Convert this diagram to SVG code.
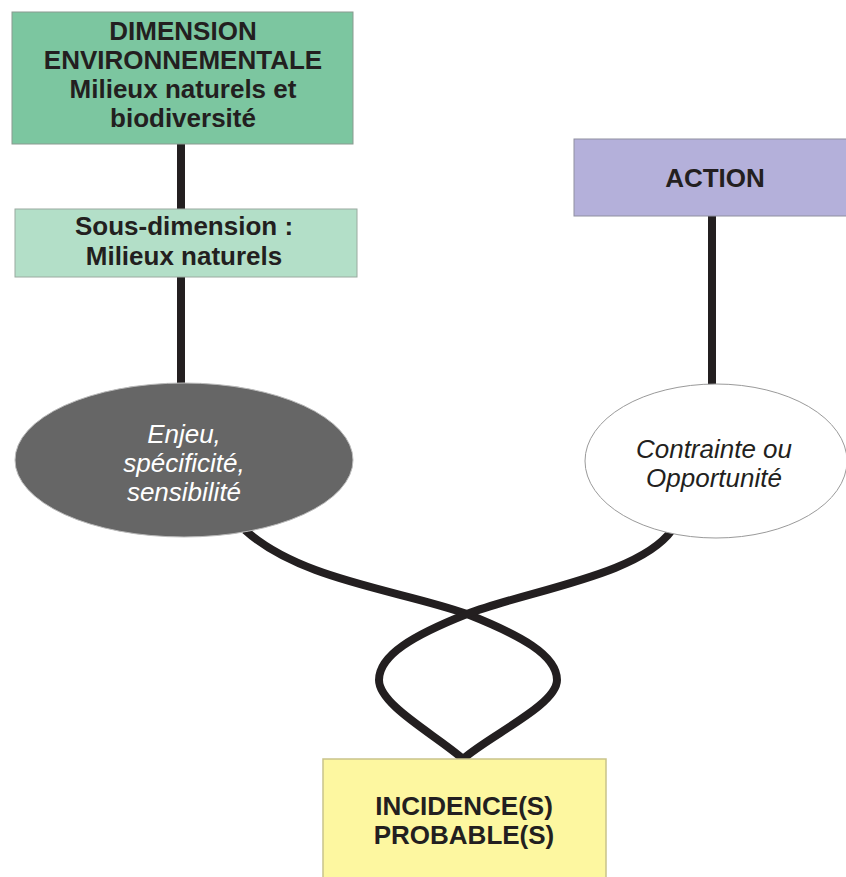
<svg xmlns="http://www.w3.org/2000/svg" width="846" height="877" viewBox="0 0 846 877">
<style>
.b{font-family:"Liberation Sans",Arial,sans-serif;font-weight:bold;font-size:26px;fill:#231f20;text-anchor:middle}
.i{font-family:"Liberation Sans",Arial,sans-serif;font-style:italic;font-size:26px;text-anchor:middle}
.c{fill:none;stroke:#231f20;stroke-width:8}
</style>
<rect width="846" height="877" fill="#ffffff"/>
<g id="connectors">
<line class="c" x1="181" y1="144" x2="181" y2="210"/>
<line class="c" x1="181" y1="277" x2="181" y2="390"/>
<line class="c" x1="712" y1="216" x2="712" y2="390"/>
<path class="c" d="M245,530 C300,580 400,590 467,614 C520,635 557,655 557,680 C557,705 490,735 463,759"/>
<path class="c" d="M672,530 C640,575 530,590 467,614 C414,635 379,655 379,680 C379,705 436,735 463,759"/>
</g>
<g id="dimension">
<rect x="12" y="12" width="341" height="132" fill="#7cc6a0" stroke="#8a9a90" stroke-width="1"/>
<text class="b" x="183" y="40">DIMENSION</text>
<text class="b" x="183" y="69">ENVIRONNEMENTALE</text>
<text class="b" x="183" y="98">Milieux naturels et</text>
<text class="b" x="183" y="127">biodiversité</text>
</g>
<g id="sousdimension">
<rect x="15" y="209" width="342" height="68" fill="#b3dfc8" stroke="#9aaaa0" stroke-width="1"/>
<text class="b" x="184" y="235">Sous-dimension :</text>
<text class="b" x="184" y="265">Milieux naturels</text>
</g>
<g id="action">
<rect x="574" y="139" width="280" height="77" fill="#b4b0da" stroke="#8f8fa0" stroke-width="1"/>
<text class="b" x="715" y="187">ACTION</text>
</g>
<g id="enjeu">
<ellipse cx="184" cy="460" rx="169" ry="77" fill="#666666" stroke="#bbbbbb" stroke-width="1"/>
<text class="i" x="184" y="443" fill="#ffffff">Enjeu,</text>
<text class="i" x="184" y="472" fill="#ffffff">spécificité,</text>
<text class="i" x="184" y="501" fill="#ffffff">sensibilité</text>
</g>
<g id="contrainte">
<ellipse cx="716" cy="461" rx="131" ry="77" fill="#ffffff" stroke="#9a9a9a" stroke-width="1"/>
<text class="i" x="714" y="458" fill="#231f20">Contrainte ou</text>
<text class="i" x="714" y="487" fill="#231f20">Opportunité</text>
</g>
<g id="incidence">
<rect x="323" y="759" width="283" height="125" fill="#fdf7a0" stroke="#c9c38a" stroke-width="1.5"/>
<text class="b" x="464" y="815">INCIDENCE(S)</text>
<text class="b" x="464" y="844">PROBABLE(S)</text>
</g>
</svg>
